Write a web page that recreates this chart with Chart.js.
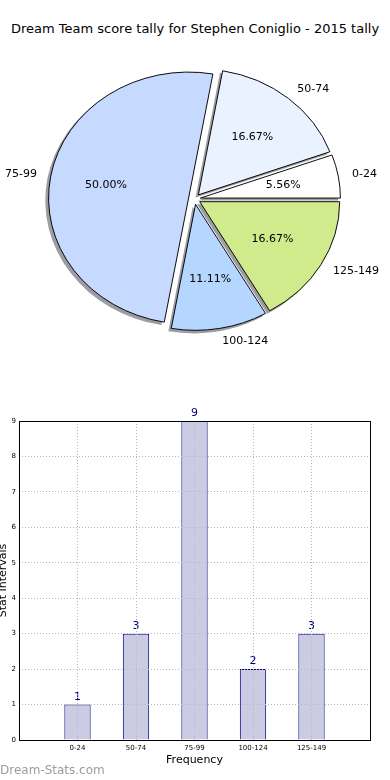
<!DOCTYPE html>
<html>
<head>
<meta charset="utf-8">
<script src="https://cdn.jsdelivr.net/npm/chart.js@4/dist/chart.umd.min.js"></script>
<style>
  body { margin: 0; background: #fff; width: 390px; height: 780px; position: relative; overflow: hidden; font-family: "DejaVu Sans", sans-serif; }
  #title { position: absolute; top: 21px; left: 0; width: 390px; text-align: center; font-size: 13px; color: #000; }
  #pie { position: absolute; top: 0; left: 0; }
  #bar { position: absolute; top: 400px; left: 0; }
  #mark { position: absolute; left: 0; top: 763px; font-size: 12px; color: #9c9c9c; }
</style>
</head>
<body>
<div id="title">Dream Team score tally for Stephen Coniglio - 2015 tally</div>
<canvas id="pie" width="390" height="400"></canvas>
<canvas id="bar" width="390" height="380"></canvas>
<div id="mark">Dream-Stats.com</div>
<script>
// data
const intervals = ["0-24", "50-74", "75-99", "100-124", "125-149"];
const counts = [1, 3, 9, 2, 3];
const sliceColors = ["#ffffff", "#eaf1ff", "#c6d9ff", "#b4d6ff", "#d0eb8c"];

// pie look (matplotlib-ish: squashed, exploded, shadow)
const squash = 0.9;
const explodeDist = 6;
const shadowDx = -2.8, shadowDy = 2.8;

// matplotlib goes counter-clockwise from east, chart.js clockwise -> reverse
const pieLabels = intervals.slice().reverse();
const pieData = counts.slice().reverse();
const pieColors = sliceColors.slice().reverse();
const total = counts.reduce((a, b) => a + b, 0);

const pieLook = {
  id: "pieLook",
  beforeDatasetsDraw(chart) {
    const ctx = chart.ctx;
    const meta = chart.getDatasetMeta(0);
    const first = meta.data[0];
    ctx.save();
    ctx.translate(first.x, first.y);
    ctx.scale(1, squash);
    ctx.translate(-first.x, -first.y);

    // shadows under every wedge
    meta.data.forEach(arc => {
      const mid = (arc.startAngle + arc.endAngle) / 2;
      const x = arc.x + Math.cos(mid) * explodeDist + shadowDx;
      const y = arc.y + Math.sin(mid) * explodeDist + shadowDy;
      ctx.beginPath();
      ctx.moveTo(x, y);
      ctx.arc(x, y, arc.outerRadius + 0.5, arc.startAngle, arc.endAngle);
      ctx.closePath();
      ctx.fillStyle = "rgba(55,60,70,0.5)";
      ctx.fill();
    });

    // push each wedge out along its middle angle
    meta.data.forEach(arc => {
      if (arc._exploded) return;
      const base = arc.draw;
      arc.draw = function (c) {
        const mid = (this.startAngle + this.endAngle) / 2;
        c.save();
        c.translate(Math.cos(mid) * explodeDist, Math.sin(mid) * explodeDist);
        base.call(this, c);
        c.restore();
      };
      arc._exploded = true;
    });
  },
  afterDatasetsDraw(chart) {
    const ctx = chart.ctx;
    ctx.restore();
    const meta = chart.getDatasetMeta(0);
    ctx.save();
    ctx.font = "11px 'DejaVu Sans'";
    ctx.fillStyle = "#000";
    ctx.textBaseline = "middle";
    meta.data.forEach((arc, i) => {
      const mid = (arc.startAngle + arc.endAngle) / 2;
      const cos = Math.cos(mid), sin = Math.sin(mid);
      const rl = arc.outerRadius * 1.1 + explodeDist;
      ctx.textAlign = cos > 0 ? "left" : "right";
      ctx.fillText(pieLabels[i], arc.x + rl * cos, arc.y + rl * sin * squash);
      const rp = arc.outerRadius * 0.6 + explodeDist;
      ctx.textAlign = "center";
      const pct = (pieData[i] / total * 100).toFixed(2) + "%";
      ctx.fillText(pct, arc.x + rp * cos, arc.y + rp * sin * squash);
    });
    ctx.restore();
  }
};

new Chart(document.getElementById("pie"), {
  type: "pie",
  data: {
    labels: pieLabels,
    datasets: [{
      data: pieData,
      backgroundColor: pieColors,
      borderColor: "#000",
      borderWidth: 1,
      radius: 140,
      rotation: 90
    }]
  },
  options: {
    responsive: false,
    animation: false,
    layout: { padding: { right: 1, bottom: 2 } },
    plugins: { legend: { display: false }, tooltip: { enabled: false } }
  },
  plugins: [pieLook]
});

// numbers over the bars + full box round the axes
const barLook = {
  id: "barLook",
  afterDatasetsDraw(chart) {
    const ctx = chart.ctx;
    const meta = chart.getDatasetMeta(0);
    const vals = chart.data.datasets[0].data;
    ctx.save();
    ctx.font = "11px 'DejaVu Sans'";
    ctx.fillStyle = "#000080";
    ctx.textAlign = "center";
    ctx.textBaseline = "bottom";
    meta.data.forEach((bar, i) => {
      if (vals[i] == null) return;
      ctx.fillText(String(vals[i]), bar.x, bar.y - 2);
    });
    ctx.restore();
  },
  afterDraw(chart) {
    const a = chart.chartArea;
    const ctx = chart.ctx;
    ctx.save();
    ctx.strokeStyle = "#000";
    ctx.lineWidth = 1;
    ctx.strokeRect(Math.round(a.left) + 0.5, Math.round(a.top) + 0.5, Math.round(a.right - a.left), Math.round(a.bottom - a.top));
    ctx.restore();
  }
};

new Chart(document.getElementById("bar"), {
  type: "bar",
  data: {
    labels: ["", ...intervals, ""],
    datasets: [{
      data: [null, ...counts, null],
      backgroundColor: "#cbcbe3",
      borderColor: "#000080",
      borderWidth: 1,
      barPercentage: 0.45,
      categoryPercentage: 1
    }]
  },
  options: {
    responsive: false,
    animation: false,
    layout: { padding: { top: 21, right: 20 } },
    plugins: { legend: { display: false }, tooltip: { enabled: false } },
    scales: {
      x: {
        offset: false,
        grid: { color: "#b8b8b8", drawTicks: false, offset: false, z: 1 },
        border: { display: false, dash: [1, 2] },
        ticks: { font: { size: 7, family: "DejaVu Sans" }, color: "#000", padding: 4, maxRotation: 0, autoSkip: false },
        title: { display: true, text: "Frequency", font: { size: 11, family: "DejaVu Sans" }, color: "#000", padding: { top: 0, bottom: 13 } },
        afterFit: s => { s.height = 40; }
      },
      y: {
        min: 0,
        max: 9,
        grid: { color: "#b8b8b8", drawTicks: false, z: 1 },
        border: { display: false, dash: [1, 2] },
        ticks: { stepSize: 1, font: { size: 7, family: "DejaVu Sans" }, color: "#000", padding: 3 },
        title: { display: true, text: "Stat Intervals", font: { size: 11, family: "DejaVu Sans" }, color: "#000", padding: { top: -3, bottom: 0 } },
        afterFit: s => { s.width = 19; }
      }
    }
  },
  plugins: [barLook]
});
</script>
</body>
</html>
